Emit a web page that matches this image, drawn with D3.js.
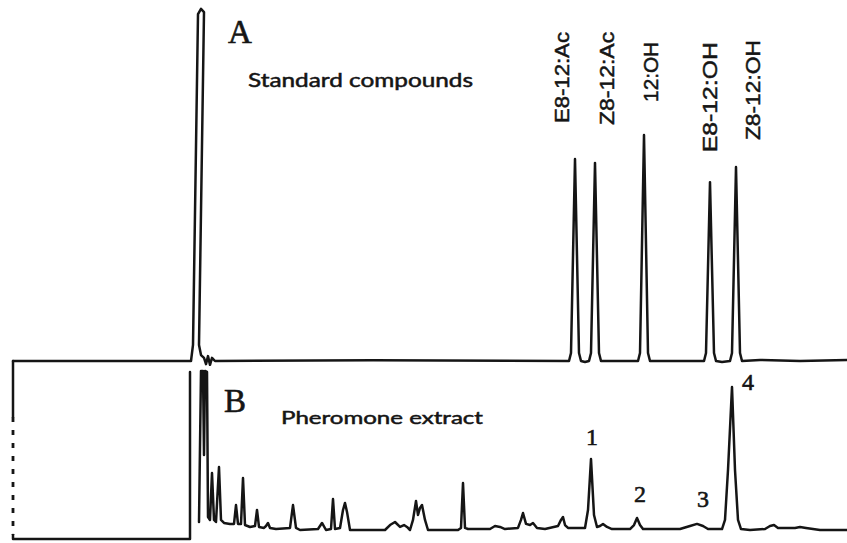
<!DOCTYPE html>
<html>
<head>
<meta charset="utf-8">
<script src="https://cdn.jsdelivr.net/npm/d3@7"></script>
<style>
  body { margin: 0; background: #fff; }
  svg { display: block; }
</style>
</head>
<body>
<svg id="chart" width="847" height="543"></svg>
<script>
// retention time in minutes, detector response in % of full scale

// panel A - standard compounds
var stdNames = ["E8-12:Ac", "Z8-12:Ac", "12:OH", "E8-12:OH", "Z8-12:OH"];
var stdRT = [28.1, 29.1, 31.55, 34.85, 36.15];
var stdHeight = [57.7, 56.6, 64.6, 51.1, 55.4];

// panel B - pheromone extract, numbered peaks
var extNames = ["1", "2", "3", "4"];
var extRT = [28.9, 31.2, 34.2, 35.95];
var extHeight = [44.4, 7.5, 3.8, 89.4];

// recorder traces [time, response]
var traceA = [[0,0],[8.9,0],[9.0,4.6],[9.25,99.1],[9.4,100.6],[9.55,99.7],[9.3,4.6],[9.4,1.7],
  [9.55,0.9],[9.65,-0.9],[9.75,1.4],[9.85,-1.1],[9.95,0.9],[10.1,0],[18,0.2],
  [27.8,0],[27.9,2.3],[28.1,57.7],[28.3,2.3],[28.4,0],[28.6,-0.3],[28.8,0],[28.9,2.3],[29.1,56.6],[29.3,2.3],[29.4,0],
  [31.25,0],[31.35,2.3],[31.55,64.6],[31.75,2.3],[31.85,0],
  [34.55,0],[34.65,2.3],[34.85,51.1],[35.05,2.3],[35.15,0],[35.45,-0.3],[35.85,0],[35.95,2.3],[36.15,55.4],[36.35,2.3],[36.45,0],
  [37.35,0.3],[39.35,0],[41.7,0.3]];

var leadB1 = [[0,105.6],[0,70.6]];
var leadB2 = [[0,70.6],[0,-3.1]];
var leadB3 = [[0,-3.1],[0,-5.6],[8.85,-5.6],[8.85,98.75]];

var traceB = [[9.3,5.0],[9.4,99.4],[9.5,99.4],[9.55,46.9],[9.6,99.4],[9.7,98.8],[9.75,8.1],[9.85,6.3],
  [9.95,35.6],[10.05,6.3],[10.15,5.0],[10.3,39.4],[10.4,6.3],[10.55,4.4],[10.85,3.8],[11.05,3.8],
  [11.15,15.6],[11.25,3.8],[11.4,3.8],[11.5,32.5],[11.6,3.1],[11.85,1.9],[12.1,2.5],[12.2,12.5],
  [12.3,1.9],[12.55,1.3],[12.65,2.5],[12.75,4.4],[12.85,1.3],[13.15,0.6],[13.85,1.3],[14.0,15.6],
  [14.15,1.3],[14.35,0],[15.25,0.6],[15.45,4.4],[15.65,0],[15.9,0.6],[16.0,19.4],[16.1,0.6],
  [16.35,1.3],[16.5,12.5],[16.6,16.9],[16.7,11.3],[16.85,0],[18.6,0],[18.85,3.1],[19.1,5.0],
  [19.35,1.9],[19.55,3.1],[19.7,1.9],[19.85,0],[20.0,6.3],[20.15,18.1],[20.25,9.4],[20.35,13.8],
  [20.45,15.6],[20.6,6.3],[20.75,0],[22.25,0],[22.4,1.3],[22.5,29.4],[22.6,1.3],[22.75,0.6],
  [23.85,0.6],[24.1,2.5],[24.35,1.9],[24.6,0.6],[25.25,1.3],[25.4,6.3],[25.5,10.6],[25.65,3.8],
  [25.85,3.1],[26.0,4.4],[26.2,1.3],[26.6,0.6],[27.25,2.5],[27.4,6.3],[27.5,8.1],[27.6,3.1],
  [27.75,1.3],[28.6,1.3],[28.75,12.5],[28.9,44.4],[29.05,9.4],[29.2,1.9],[29.35,2.5],[29.5,3.8],
  [29.7,1.9],[29.95,0.6],[30.85,0.6],[31.05,3.1],[31.2,7.5],[31.35,3.1],[31.5,0.6],[33.35,0.6],
  [33.85,2.5],[34.2,3.8],[34.5,2.5],[34.75,0.6],[35.45,0.6],[35.6,6.3],[35.75,37.5],[35.95,89.4],
  [36.1,37.5],[36.25,6.3],[36.4,0.6],[36.85,0],[37.6,0.6],[37.85,2.5],[38.05,3.1],[38.25,1.3],
  [39.1,1.3],[39.35,1.9],[39.65,1.3],[40.35,0],[41.7,0]];

var svg = d3.select("#chart");
var width = 847, height = 543;
var ink = "#151515";

svg.append("rect").attr("width", width).attr("height", height).attr("fill", "#fff");

var x = d3.scaleLinear().domain([0, 41.7]).range([13, 847]);
var yA = d3.scaleLinear().domain([0, 100]).range([361, 11]);
var yB = d3.scaleLinear().domain([0, 100]).range([530, 370]);

var lineA = d3.line().x(function(d) { return x(d[0]); }).y(function(d) { return yA(d[1]); });
var lineB = d3.line().x(function(d) { return x(d[0]); }).y(function(d) { return yB(d[1]); });

function trace(data, gen, dash) {
  var p = svg.append("path")
    .attr("d", gen(data))
    .attr("fill", "none")
    .attr("stroke", ink)
    .attr("stroke-width", 2.5)
    .attr("stroke-linejoin", "round")
    .attr("stroke-linecap", "round");
  if (dash) p.attr("stroke-dasharray", "5,8").attr("stroke-linecap", "butt").attr("stroke-width", 2.8);
  return p;
}

trace(traceA, lineA);
trace(leadB1, lineB);
trace(leadB2, lineB, true);
trace(leadB3, lineB);
trace(traceB, lineB);

// scanned print looks heavy, so give the text a thin outline
function inked(t, w) {
  return t.attr("fill", ink).attr("stroke", ink).attr("stroke-width", w);
}

// panel letters and captions
inked(svg.append("text").attr("x", 228).attr("y", 43).text("A")
  .attr("font-family", "Liberation Serif").attr("font-size", 33), 0.6);
inked(svg.append("text").attr("x", 248).attr("y", 87).text("Standard compounds")
  .attr("font-family", "Lato").attr("font-size", 19)
  .attr("textLength", 225).attr("lengthAdjust", "spacingAndGlyphs"), 0.5);
inked(svg.append("text").attr("x", 224).attr("y", 412).text("B")
  .attr("font-family", "Liberation Serif").attr("font-size", 33), 0.6);
inked(svg.append("text").attr("x", 281).attr("y", 424).text("Pheromone extract")
  .attr("font-family", "Lato").attr("font-size", 18)
  .attr("textLength", 202).attr("lengthAdjust", "spacingAndGlyphs"), 0.5);

// compound names above standard peaks (label placement tweaks)
var stdDx = [-6, 19, 14, 7, 24];
var stdDy = [36, 38, 33, 30, 27];
var stdLen = [91, 93, 60, 110, 100];
inked(svg.selectAll("text.std").data(stdNames).enter().append("text")
  .attr("class", "std")
  .attr("transform", function(d, i) {
    return "translate(" + (x(stdRT[i]) + stdDx[i]) + "," + (yA(stdHeight[i]) - stdDy[i]) + ") rotate(-90)";
  })
  .attr("textLength", function(d, i) { return stdLen[i]; })
  .attr("lengthAdjust", "spacingAndGlyphs")
  .attr("font-family", "Liberation Sans")
  .attr("font-size", 21)
  .text(function(d) { return d; }), 0.5);

// numbers above extract peaks
var extDx = [1, 3, 6, 16];
var extDy = [14, 16, 17, -3];
inked(svg.selectAll("text.ext").data(extNames).enter().append("text")
  .attr("class", "ext")
  .attr("x", function(d, i) { return x(extRT[i]) + extDx[i]; })
  .attr("y", function(d, i) { return yB(extHeight[i]) - extDy[i]; })
  .attr("text-anchor", "middle")
  .attr("font-family", "Liberation Serif")
  .attr("font-size", 24)
  .text(function(d) { return d; }), 0.6);
</script>
</body>
</html>
